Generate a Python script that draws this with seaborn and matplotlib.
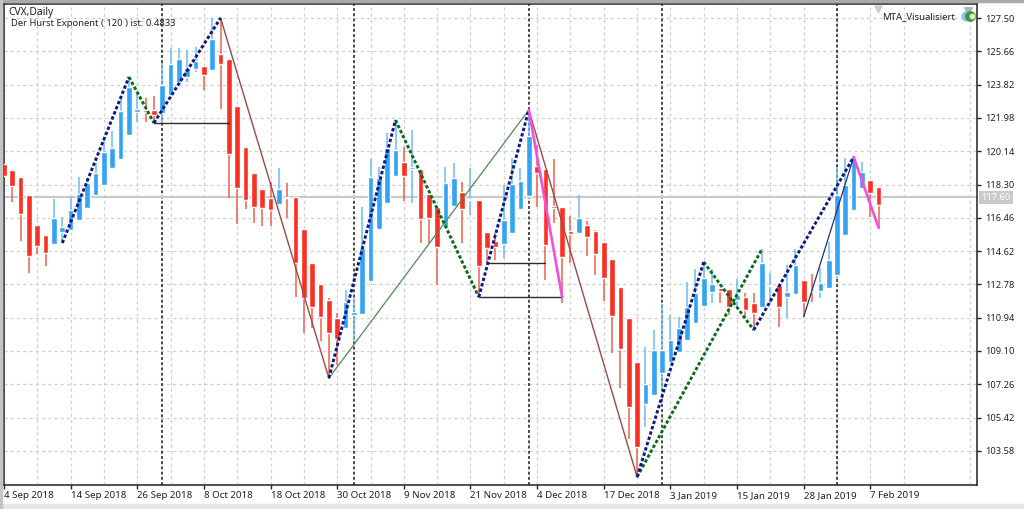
import numpy as np
import pandas as pd
import matplotlib
matplotlib.use('Agg')
import matplotlib.pyplot as plt
import matplotlib.transforms as mtrans
import seaborn as sns

# daily candles, one value per bar
opens = [119.43, 119.10, 118.71, 117.72, 116.06, 115.51, 115.01, 115.67, 115.79, 116.34,
         117.00, 117.72, 118.27, 119.21, 119.71, 121.04, 122.30, 122.42, 122.42, 122.25,
         123.25, 123.96, 124.24, 124.68, 124.85, 124.63, 125.51, 125.24, 122.64, 120.37,
         118.94, 118.05, 117.55, 117.22, 117.61, 117.61, 115.84, 113.96, 112.80, 111.92,
         110.92, 110.37, 111.09, 111.14, 112.97, 115.84, 117.28, 118.77, 119.54, 119.16,
         119.16, 117.77, 117.06, 115.95, 117.11, 117.89, 117.44, 117.44, 115.67, 115.18,
         115.01, 115.62, 116.95, 117.66, 119.32, 119.16, 117.11, 117.06, 115.73, 115.62,
         116.06, 115.73, 115.12, 114.18, 112.64, 110.92, 108.49, 106.17, 106.67, 107.88,
         108.49, 109.04, 109.70, 110.65, 111.59, 112.36, 112.58, 112.53, 111.92, 112.08,
         111.75, 111.53, 112.69, 112.75, 112.08, 112.25, 113.02, 112.41, 112.41, 112.58,
         113.30, 115.51, 116.89, 118.11, 118.55, 118.16]
closes = [118.77, 118.22, 116.67, 114.35, 114.90, 114.51, 116.45, 115.95, 116.89, 117.77,
          118.38, 118.94, 120.10, 120.32, 122.36, 123.69, 122.47, 122.30, 122.14, 123.80,
          124.96, 125.24, 124.74, 125.12, 124.35, 126.34, 124.96, 119.99, 118.11, 117.44,
          117.06, 117.00, 116.89, 118.05, 117.55, 113.96, 112.03, 111.53, 110.98, 110.10,
          109.76, 111.80, 111.25, 114.79, 118.71, 118.66, 120.32, 120.20, 118.77, 119.27,
          116.39, 116.45, 114.85, 118.38, 118.66, 116.95, 117.50, 113.80, 114.79, 114.85,
          116.34, 118.33, 118.49, 120.98, 118.94, 114.96, 117.00, 114.30, 115.56, 116.45,
          115.40, 114.46, 113.13, 111.03, 109.21, 106.00, 103.79, 107.27, 109.15, 109.15,
          109.70, 110.37, 111.53, 112.30, 113.13, 112.80, 112.41, 111.53, 112.19, 111.36,
          111.20, 113.96, 112.75, 111.53, 112.36, 113.85, 111.80, 112.36, 112.86, 114.13,
          117.72, 118.27, 119.76, 118.99, 117.83, 117.17]
highs = [119.43, 119.10, 118.71, 117.72, 116.06, 115.51, 117.50, 116.50, 117.61, 118.71,
         118.66, 119.49, 120.87, 121.26, 123.13, 124.24, 123.36, 123.08, 123.19, 125.01,
         125.84, 125.84, 125.73, 125.90, 124.85, 127.50, 127.50, 125.24, 122.64, 120.37,
         118.94, 118.05, 118.44, 119.21, 118.38, 117.61, 115.84, 113.96, 112.80, 112.03,
         111.20, 112.47, 112.03, 117.06, 119.71, 119.27, 121.15, 121.86, 120.37, 121.31,
         119.16, 117.77, 117.06, 119.27, 119.49, 118.44, 119.21, 117.44, 115.67, 115.62,
         118.27, 119.76, 119.21, 122.42, 120.48, 119.16, 119.71, 117.06, 116.56, 117.72,
         116.28, 115.79, 115.12, 114.18, 112.64, 110.92, 108.49, 109.32, 110.26, 111.70,
         111.09, 110.98, 112.91, 113.63, 114.02, 113.63, 112.58, 112.53, 113.08, 112.30,
         112.30, 114.74, 113.41, 112.75, 113.85, 114.74, 113.02, 113.35, 113.69, 115.12,
         119.27, 119.76, 119.82, 119.54, 118.55, 118.16]
lows = [118.77, 117.33, 115.18, 113.41, 114.46, 113.80, 115.01, 115.07, 115.79, 116.34,
        117.00, 117.72, 118.27, 119.21, 119.71, 121.04, 121.75, 121.75, 121.70, 121.64,
        123.25, 123.96, 123.96, 124.52, 123.52, 124.63, 122.47, 117.55, 116.12, 116.95,
        116.17, 116.01, 116.01, 117.22, 116.45, 112.08, 110.10, 110.37, 109.65, 107.60,
        108.33, 110.37, 109.60, 111.14, 112.97, 115.84, 117.28, 118.77, 117.39, 117.28,
        115.07, 115.07, 112.75, 115.95, 117.11, 115.07, 116.61, 112.08, 113.96, 114.13,
        114.24, 115.62, 116.95, 117.66, 117.06, 113.02, 116.17, 111.75, 113.96, 115.62,
        114.35, 113.30, 111.86, 108.99, 107.05, 104.24, 102.14, 104.90, 106.67, 107.00,
        108.49, 109.04, 109.70, 110.65, 111.59, 111.75, 111.75, 111.09, 111.53, 110.98,
        110.26, 111.53, 111.75, 110.43, 110.92, 112.25, 110.98, 111.80, 112.03, 112.58,
        113.13, 115.51, 116.89, 118.11, 116.50, 115.90]

date_labels = ['4 Sep 2018', '14 Sep 2018', '26 Sep 2018', '8 Oct 2018', '18 Oct 2018',
               '30 Oct 2018', '9 Nov 2018', '21 Nov 2018', '4 Dec 2018', '17 Dec 2018',
               '3 Jan 2019', '15 Jan 2019', '28 Jan 2019', '7 Feb 2019']
price_ticks = [127.50, 125.66, 123.82, 121.98, 120.14, 118.30, 116.46,
               114.62, 112.78, 110.94, 109.10, 107.26, 105.42, 103.58]
period_bars = [19, 42, 63, 79, 100]
last_price = 117.60

# zigzag legs: bar_from, price_from, bar_to, price_to
navy_legs = [(7, 115.07, 15, 124.24), (18, 121.70, 26, 127.50), (39, 107.60, 47, 121.86),
             (57, 112.08, 63, 122.42), (76, 102.14, 84, 114.02), (90, 110.26, 102, 119.82)]
green_legs = [(15, 124.24, 18, 121.70), (47, 121.86, 57, 112.08),
              (76, 102.14, 91, 114.74), (84, 114.02, 90, 110.26)]
brown_legs = [(26, 127.50, 39, 107.60), (63, 122.42, 76, 102.14)]
thin_green_legs = [(39, 107.60, 63, 122.42)]
thin_navy_legs = [(96, 110.98, 102, 119.82)]
magenta_legs = [(63, 122.42, 67, 112.08), (102, 119.82, 105, 115.90)]
black_legs = [(18, 121.70, 27, 121.70), (58, 113.96, 65, 113.96), (57, 112.08, 67, 112.08)]


def legs_frame(legs):
    rows = []
    for n, (b0, p0, b1, p1) in enumerate(legs):
        rows.append({'leg': n, 'bar': b0, 'price': p0})
        rows.append({'leg': n, 'bar': b1, 'price': p1})
    return pd.DataFrame(rows)


sns.set_theme(style='white')
plt.rcParams['font.family'] = ['Noto Sans', 'DejaVu Sans']

fig = plt.figure(figsize=(10.24, 5.09), dpi=100, facecolor='white')
ax = fig.add_axes([3.5 / 1024, 1 - 484.5 / 509, 973.5 / 1024, 480.5 / 509])

bars = np.arange(len(opens))
candles = pd.DataFrame({'bar': bars, 'o': opens, 'h': highs, 'l': lows, 'c': closes})
up = candles[candles.c >= candles.o]
down = candles[candles.c < candles.o]

ax.vlines(up.bar, up.l, up.h, color='#6cbcf5', lw=1.1, zorder=3)
ax.vlines(down.bar, down.l, down.h, color='#f0604c', lw=1.1, zorder=3)
ax.bar(up.bar, up.c - up.o, bottom=up.o, width=0.68, color='#33a3f4', zorder=4)
ax.bar(down.bar, down.o - down.c, bottom=down.c, width=0.68, color='#fb3022', zorder=4)

for b in period_bars:
    ax.axvline(b, color='#333333', lw=1.25, dashes=(1.7, 1.3), zorder=2)
ax.axhline(last_price, color='#c9c9c9', lw=1.6, zorder=2.5)

line_styles = [
    (brown_legs, '#9c4a42', 1.0, None),
    (thin_green_legs, '#4f8a50', 0.9, None),
    (thin_navy_legs, '#2a2f78', 0.9, None),
    (black_legs, '#2b2b2b', 1.0, None),
    (green_legs, '#0b6b1c', 2.1, (1.15, 0.75)),
    (navy_legs, '#0c1a86', 2.1, (1.15, 0.75)),
    (magenta_legs, '#f04fe0', 1.9, None),
]
for legs, colour, width, dash in line_styles:
    kw = {'dashes': dash} if dash else {}
    for _, leg in legs_frame(legs).groupby('leg'):
        sns.lineplot(data=leg, x='bar', y='price', ax=ax, color=colour, lw=width,
                     estimator=None, sort=False, legend=False, zorder=5, **kw)

ax.set_xlim((3.5 - 4) / 8.33, (977 - 4) / 8.33)
ax.set_ylim(127.5 - (484.5 - 18) * 1.84 / 33.3, 127.5 + (18 - 4) * 1.84 / 33.3)
ax.set_xlabel('')
ax.set_ylabel('')

ax.set_xticks(np.arange(len(date_labels)) * 8)
ax.set_xticklabels(date_labels, ha='left', fontsize=7.0, color='#222222')
ax.set_xticks(np.arange(4, 118, 8), minor=True)
ax.yaxis.tick_right()
ax.set_yticks(price_ticks)
ax.set_yticklabels(['%.2f' % p for p in price_ticks], fontsize=6.7, color='#222222')
ax.tick_params(axis='x', which='major', bottom=True, length=3, width=1, color='#222222', pad=2)
ax.tick_params(axis='x', which='minor', bottom=False)
ax.tick_params(axis='y', right=True, length=3, width=1, color='#222222', pad=3)
ax.grid(True, which='both', color='#cfcfcf', lw=0.9, ls=(0, (2.5, 2.5)), zorder=0)
ax.set_axisbelow(True)
for side in ax.spines.values():
    side.set_color('#222222')
    side.set_linewidth(1.1)

price_trans = mtrans.blended_transform_factory(ax.transAxes, ax.transData)
ax.text(1.0045, last_price, '%.2f' % last_price, transform=price_trans, va='center', ha='left',
        fontsize=6.7, color='white', clip_on=False,
        bbox=dict(facecolor='#cacaca', edgecolor='none', pad=1.4))

ax.text(0.0048, 0.982, 'CVX,Daily', transform=ax.transAxes, fontsize=7.4, color='#222222', va='center')
ax.text(0.0072, 0.9595, 'Der Hurst Exponent ( 120 ) ist: 0.4833', transform=ax.transAxes,
        fontsize=6.8, color='#222222', va='center')
ax.text(0.9775, 0.974, 'MTA_Visualisiert', transform=ax.transAxes, fontsize=6.9,
        color='#222222', va='center', ha='right')

# expert advisor icon in the corner
ax.scatter([0.9905], [0.9855], s=30, marker='v', color='#b5b5b5', transform=ax.transAxes, zorder=6, clip_on=False)
ax.scatter([0.9885], [0.9745], s=40, color='#8cc4ea', transform=ax.transAxes, zorder=6)
ax.scatter([0.9925], [0.9745], s=46, color='#3f9a3a', transform=ax.transAxes, zorder=7)
ax.scatter([0.9945], [0.9745], s=10, color='#d8efc0', transform=ax.transAxes, zorder=8)
ax.scatter([0.8983], [0.9895], s=24, marker='v', color='#cccccc', transform=ax.transAxes, zorder=6)

# window frame of the terminal
fig.patches.append(plt.Rectangle((0, 1 - 2 / 509), 1, 2 / 509, transform=fig.transFigure, color='#a9a9a9'))
fig.patches.append(plt.Rectangle((0, 0), 1, 5 / 509, transform=fig.transFigure, color='#e6e6e6'))
fig.patches.append(plt.Rectangle((0, 0), 1.5 / 1024, 1, transform=fig.transFigure, color='#c4c4c4'))

fig.savefig('out.png', dpi=100)
